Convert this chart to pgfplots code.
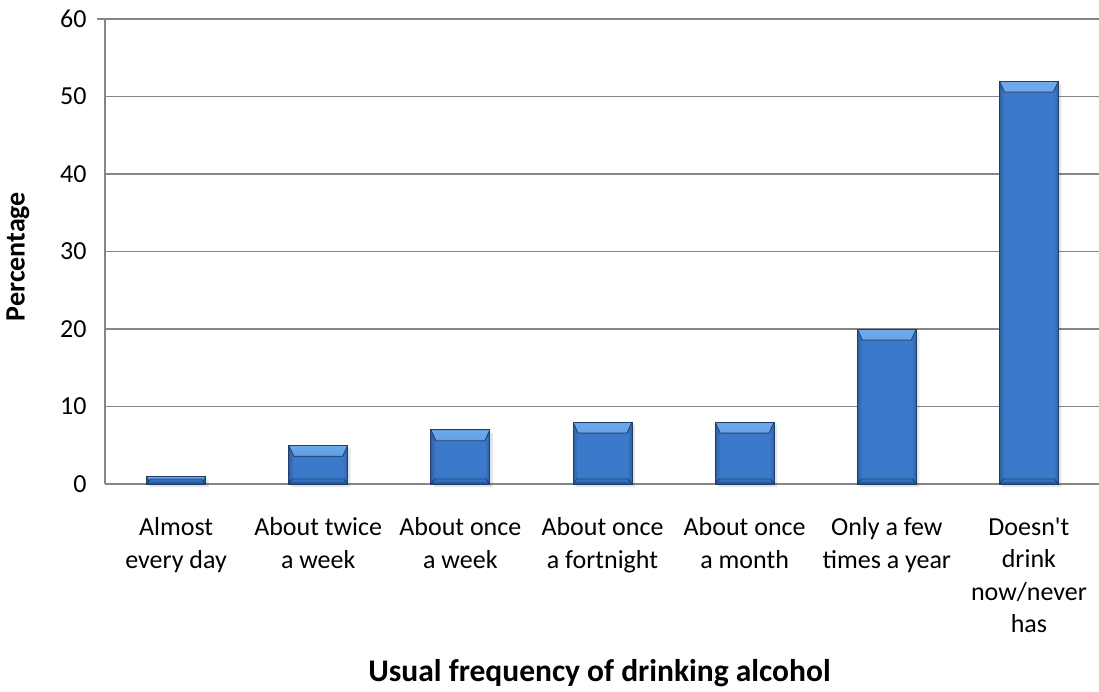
\documentclass[border=0pt]{standalone}
\usepackage{pgfplots}
\pgfplotsset{compat=1.18}
\usepackage{fontspec}
\setmainfont{Carlito}[Ligatures=TeXOff]

\definecolor{gridgray}{HTML}{868686}
\definecolor{barEdge}{HTML}{1E3F6E}
\definecolor{barSide}{HTML}{2B5FA5}
\definecolor{barMid}{HTML}{3B7ACA}
\definecolor{barTop}{HTML}{6EA9EC}
\definecolor{barBottom}{HTML}{24508A}

% body of a bar: darker rims at the left and right edges
\pgfdeclarehorizontalshading{barbody}{100bp}{
  color(0bp)=(barSide); color(25bp)=(barSide); color(29bp)=(barMid);
  color(71bp)=(barMid); color(75bp)=(barSide); color(100bp)=(barSide)}

% one bevelled bar; each bar is its own plot so the shading fits it
\pgfplotsset{
  bevelbar/.style={
    ybar, bar width=0.415, draw=barEdge, line width=0.8pt,
    shading=barbody,
    path picture={
      \fill[path picture={}, top color=barTop, bottom color=barMid]
        (path picture bounding box.north west) -- (path picture bounding box.north east)
        -- ([xshift=-5pt,yshift=-11pt]path picture bounding box.north east)
        -- ([xshift=5pt,yshift=-11pt]path picture bounding box.north west) -- cycle;
      \fill[path picture={}, top color=barMid, bottom color=barBottom]
        (path picture bounding box.south west) -- (path picture bounding box.south east)
        -- ([xshift=-4pt,yshift=5pt]path picture bounding box.south east)
        -- ([xshift=4pt,yshift=5pt]path picture bounding box.south west) -- cycle;
    },
  },
}

\begin{document}
\begin{tikzpicture}
\useasboundingbox (-105pt,-207pt) rectangle (994pt,484pt);
\begin{axis}[
  scale only axis,
  width=995pt, height=465pt,
  xmin=-0.5, xmax=6.5,
  ymin=0, ymax=60,
  ytick={0,10,...,60},
  xtick={0,...,6},
  xticklabels={{Almost\\every day},{About twice\\a week},{About once\\a week},{About once\\a fortnight},{About once\\a month},{Only a few\\times a year},{Doesn't\\drink\\now/never\\has}},
  axis x line*=bottom,
  axis y line*=left,
  axis line style={draw=gridgray, line width=1.5pt, -},
  ymajorgrids,
  % grid lines run 8pt past the y axis, forming the outer tick marks
  grid style={draw=gridgray, line width=1.5pt, shorten <=-8pt},
  xtick style={draw=none},
  ytick style={draw=none},
  /pgf/number format/assume math mode=true,
  tick label style={font=\fontsize{26}{32.5}\selectfont},
  xticklabel style={align=center, anchor=north, yshift=-30pt},
  yticklabel style={anchor=east, xshift=-15pt},
  ylabel={Percentage},
  xlabel={Usual frequency of drinking alcohol},
  every axis y label/.style={at={(axis description cs:0,0.5)}, anchor=center, xshift=-87pt, yshift=-5pt, rotate=90, font=\fontsize{28}{34}\selectfont\bfseries},
  every axis x label/.style={at={(axis description cs:0.5,0)}, anchor=center, xshift=-3pt, yshift=-189pt, font=\fontsize{31.5}{38}\selectfont\bfseries},
  clip=false,
]
% soft shadow behind the bars
\addplot[ybar, bar width=0.415, bar shift=3pt, yshift=-3pt, draw=none,
  fill=black, fill opacity=0.1]
  coordinates {(0,1) (1,5) (2,7) (3,8) (4,8) (5,20) (6,52)};
% the bars: Almost every day ... Doesn't drink now/never has
\addplot[bevelbar] coordinates {(0,1)};
\addplot[bevelbar] coordinates {(1,5)};
\addplot[bevelbar] coordinates {(2,7)};
\addplot[bevelbar] coordinates {(3,8)};
\addplot[bevelbar] coordinates {(4,8)};
\addplot[bevelbar] coordinates {(5,20)};
\addplot[bevelbar] coordinates {(6,52)};
\end{axis}
\end{tikzpicture}
\end{document}
